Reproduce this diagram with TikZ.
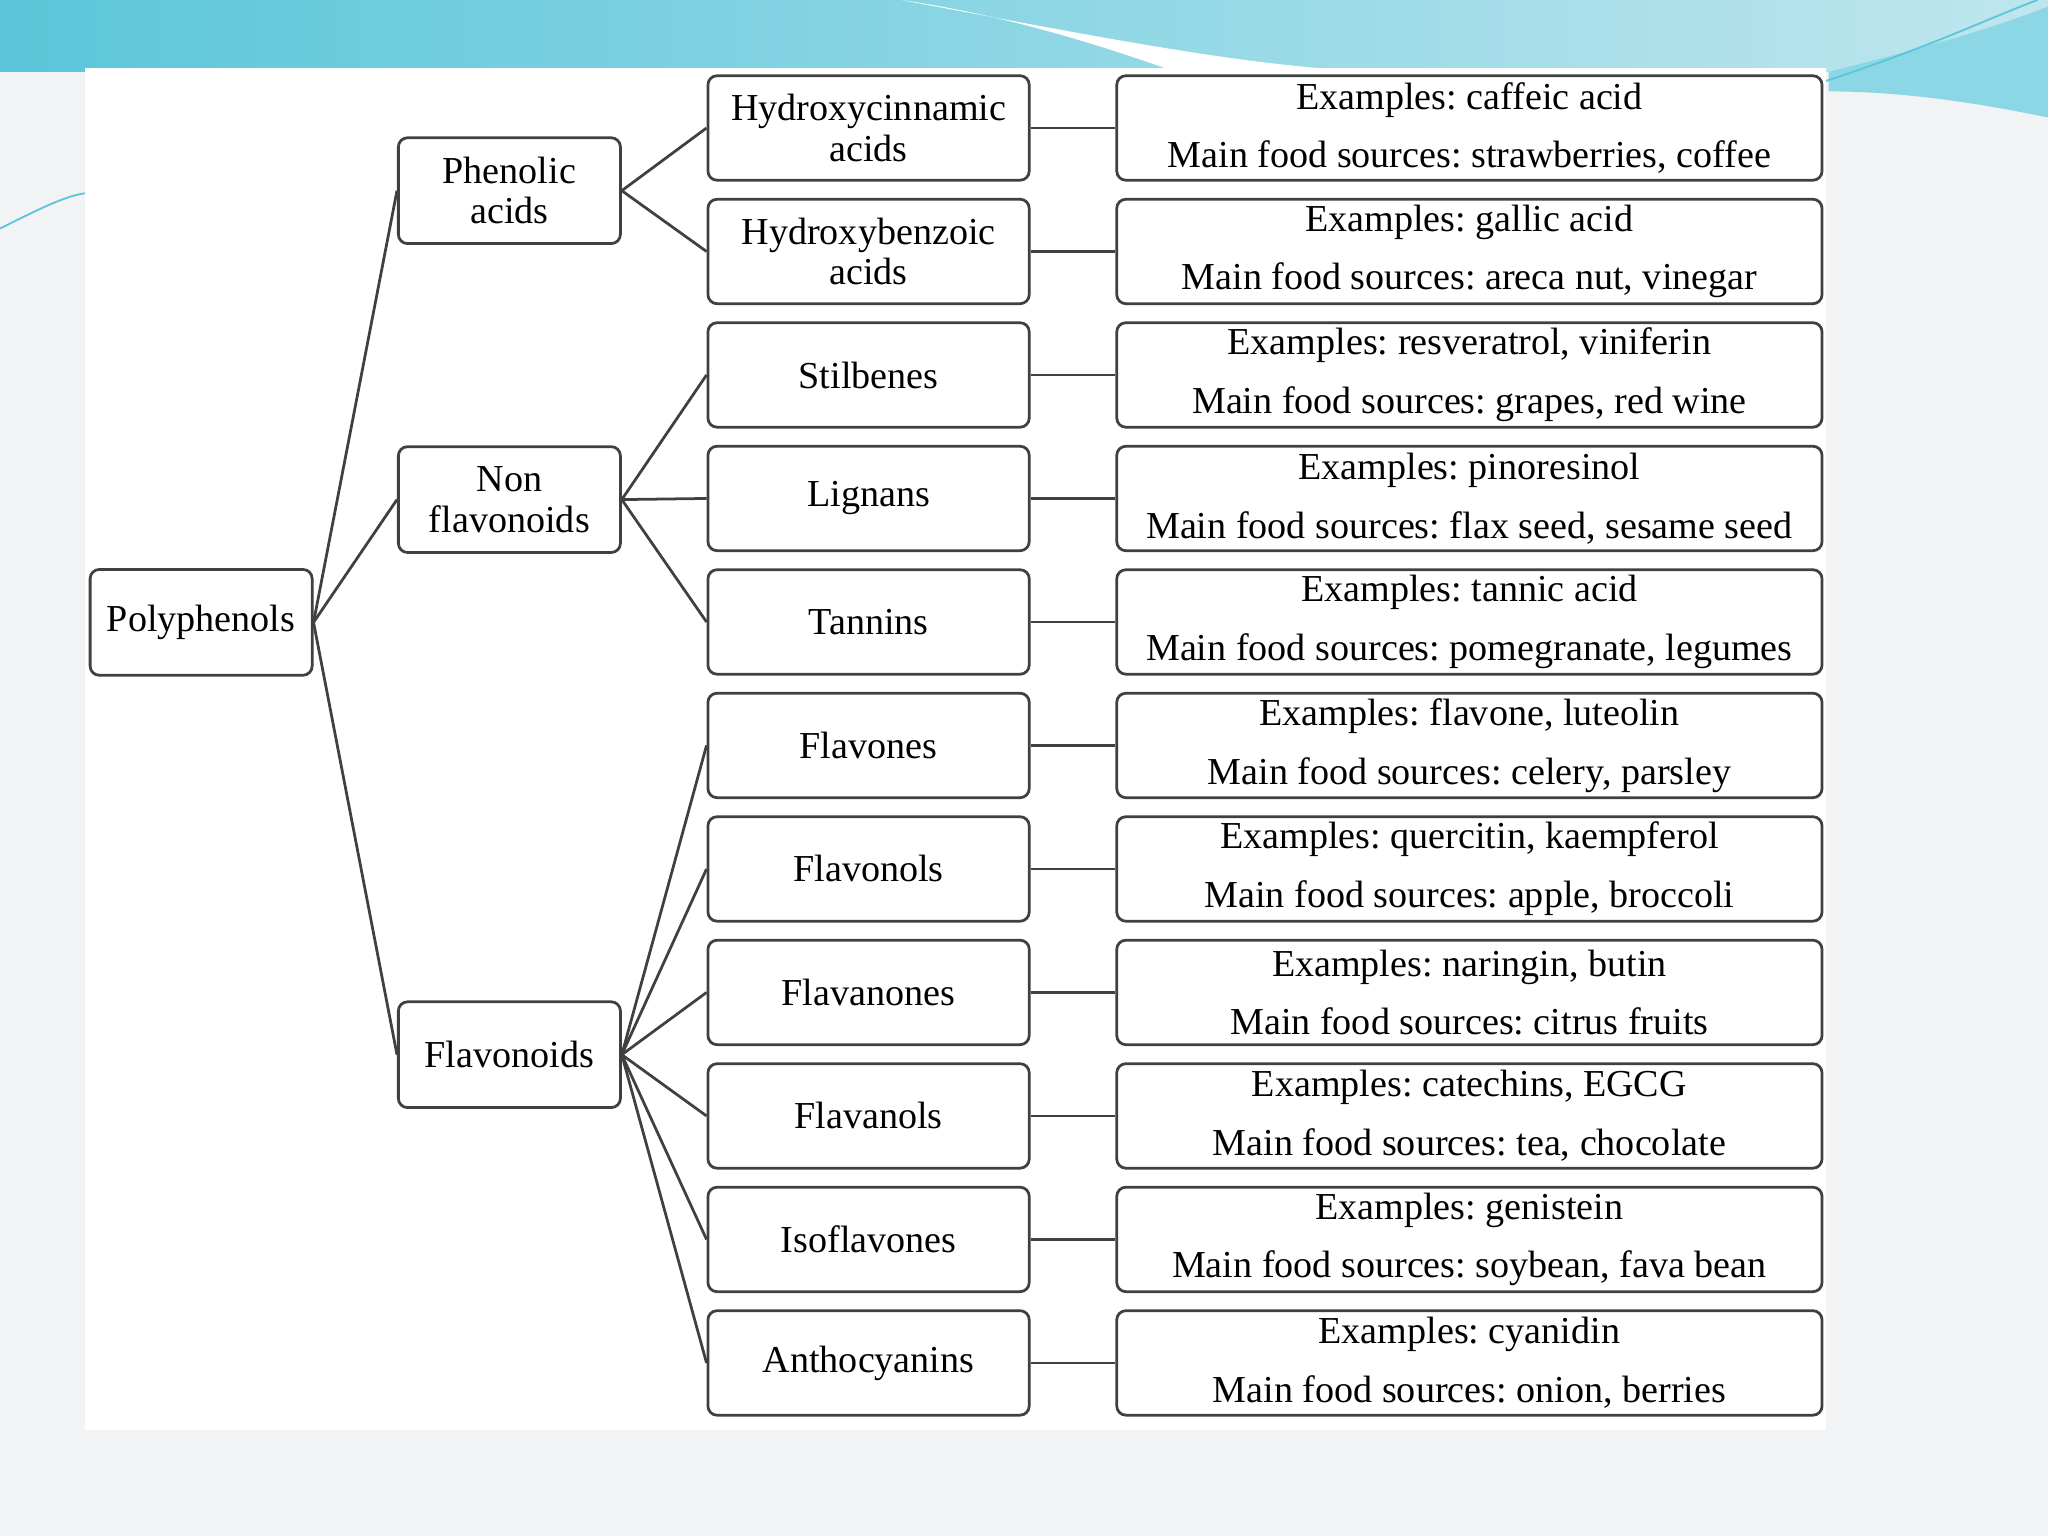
\documentclass[tikz,border=0pt]{standalone}
\usepackage{fontspec}
\setmainfont{Liberation Serif}
\frenchspacing
\definecolor{bgc}{HTML}{F1F3F5}
\definecolor{bandL}{HTML}{5BC6DA}
\definecolor{bandR}{HTML}{BFE6EE}
\definecolor{ln}{HTML}{404040}
\tikzset{
 box/.style={draw=ln,line width=0.6pt,rounded corners=2pt,fill=white,align=center,inner sep=1pt,font=\fontsize{8.3}{8.8}\selectfont},
 lbox/.style={box,minimum width=1.70cm,minimum height=0.81cm},
 mbox/.style={box,minimum width=2.46cm,minimum height=0.80cm},
 rbox/.style={box,minimum width=5.40cm,minimum height=0.80cm},
 conn/.style={draw=ln,line width=0.6pt}
}
\begin{document}
\begin{tikzpicture}
\useasboundingbox (0,0) rectangle (15.68,-11.76);
\fill[bgc] (0,0) rectangle (15.68,-11.76);
\shade[left color=bandL,right color=bandR] (0,0) rectangle (15.68,-0.55);
\fill[white] (6.9,0) .. controls (8.5,-0.3) and (9.5,-0.5) .. (10.5,-0.55) -- (9.0,-0.55) .. controls (8.3,-0.3) and (7.6,-0.1) .. (6.9,0) -- cycle;
\fill[bandL!70] (14.0,-0.55) .. controls (14.8,-0.35) and (15.3,-0.2) .. (15.68,-0.05) -- (15.68,-0.9) .. controls (15.2,-0.8) and (14.6,-0.7) .. (14.0,-0.7) -- cycle;
\draw[bandL,line width=0.4pt] (13.98,-0.62) .. controls (14.8,-0.35) and (15.2,-0.15) .. (15.6,0);
\draw[bandL,line width=0.4pt] (0,-1.75) .. controls (0.3,-1.6) and (0.5,-1.5) .. (0.65,-1.48);
\fill[white] (0.65,-0.52) rectangle (13.98,-10.95);
\node[lbox] (poly) at (1.54,-4.765) {Polyphenols};
\node[lbox] (phen) at (3.90,-1.46) {Phenolic\\acids};
\node[lbox] (nonf) at (3.90,-3.825) {Non\\flavonoids};
\node[lbox] (flav) at (3.90,-8.075) {Flavonoids};
\foreach \i/\n/\t/\e/\s in {
 1/hc/{Hydroxycinnamic\\acids}/{caffeic acid}/{strawberries, coffee},
 2/hb/{Hydroxybenzoic\\acids}/{gallic acid}/{areca nut, vinegar},
 3/st/{Stilbenes}/{resveratrol, viniferin}/{grapes, red wine},
 4/li/{Lignans}/{pinoresinol}/{flax seed, sesame seed},
 5/ta/{Tannins}/{tannic acid}/{pomegranate, legumes},
 6/fo/{Flavones}/{flavone, luteolin}/{celery, parsley},
 7/fl/{Flavonols}/{quercitin, kaempferol}/{apple, broccoli},
 8/fa/{Flavanones}/{naringin, butin}/{citrus fruits},
 9/fn/{Flavanols}/{catechins, EGCG}/{tea, chocolate},
 10/is/{Isoflavones}/{genistein}/{soybean, fava bean},
 11/an/{Anthocyanins}/{cyanidin}/{onion, berries}}{
 \node[mbox] (\n) at (6.65,{-0.98-0.9455*(\i-1)}) {\t};
 \node[rbox] (\n r) at (11.25,{-0.98-0.9455*(\i-1)}) {Examples: \e\\[4pt]Main food sources: \s};
 \draw[conn] (\n.east) -- (\n r.west);
}
\foreach \c in {phen,nonf,flav} \draw[conn] (poly.east) -- (\c.west);
\foreach \c in {hc,hb} \draw[conn] (phen.east) -- (\c.west);
\foreach \c in {st,li,ta} \draw[conn] (nonf.east) -- (\c.west);
\foreach \c in {fo,fl,fa,fn,is,an} \draw[conn] (flav.east) -- (\c.west);
\end{tikzpicture}
\end{document}
